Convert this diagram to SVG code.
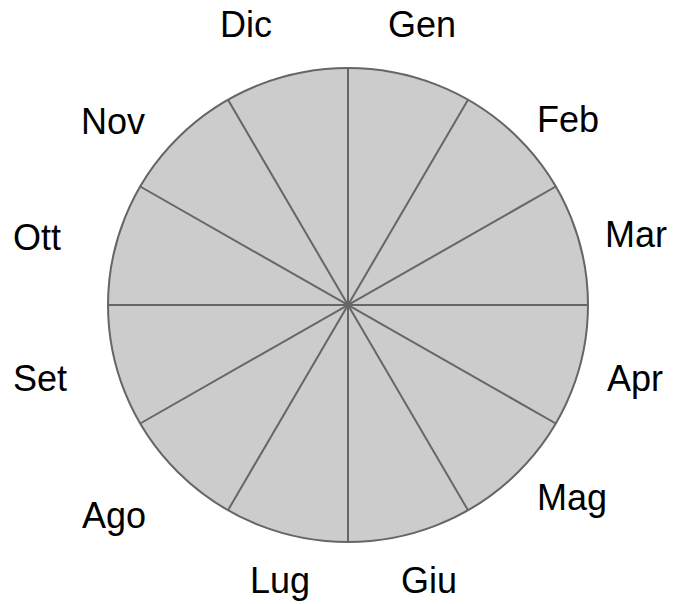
<svg xmlns="http://www.w3.org/2000/svg" width="677" height="604" viewBox="0 0 677 604">
<style>
.lbl{font-family:"Liberation Sans",Arial,sans-serif;font-size:36px;fill:#000}
.sp{stroke:#666;stroke-width:2;fill:none}
</style>
<rect width="677" height="604" fill="#fff"/>
<g id="wheel">
<ellipse cx="348" cy="305" rx="240" ry="237" fill="#cccccc" stroke="#666" stroke-width="2"/>
</g>
<g id="connectors">
<line class="sp" x1="348" y1="68" x2="348" y2="542"/>
<line class="sp" x1="468" y1="99.8" x2="228" y2="510.2"/>
<line class="sp" x1="555.8" y1="186.5" x2="140.2" y2="423.5"/>
<line class="sp" x1="588" y1="305" x2="108" y2="305"/>
<line class="sp" x1="555.8" y1="423.5" x2="140.2" y2="186.5"/>
<line class="sp" x1="468" y1="510.2" x2="228" y2="99.8"/>
</g>
<g id="gen"><text class="lbl" x="388" y="37">Gen</text></g>
<g id="feb"><text class="lbl" x="537" y="132">Feb</text></g>
<g id="mar"><text class="lbl" x="605" y="247">Mar</text></g>
<g id="apr"><text class="lbl" x="607" y="391">Apr</text></g>
<g id="mag"><text class="lbl" x="537" y="510">Mag</text></g>
<g id="giu"><text class="lbl" x="401" y="593">Giu</text></g>
<g id="lug"><text class="lbl" x="250" y="593">Lug</text></g>
<g id="ago"><text class="lbl" x="82" y="528">Ago</text></g>
<g id="set"><text class="lbl" x="13" y="391">Set</text></g>
<g id="ott"><text class="lbl" x="13" y="250">Ott</text></g>
<g id="nov"><text class="lbl" x="81" y="134">Nov</text></g>
<g id="dic"><text class="lbl" x="220" y="37">Dic</text></g>
</svg>
